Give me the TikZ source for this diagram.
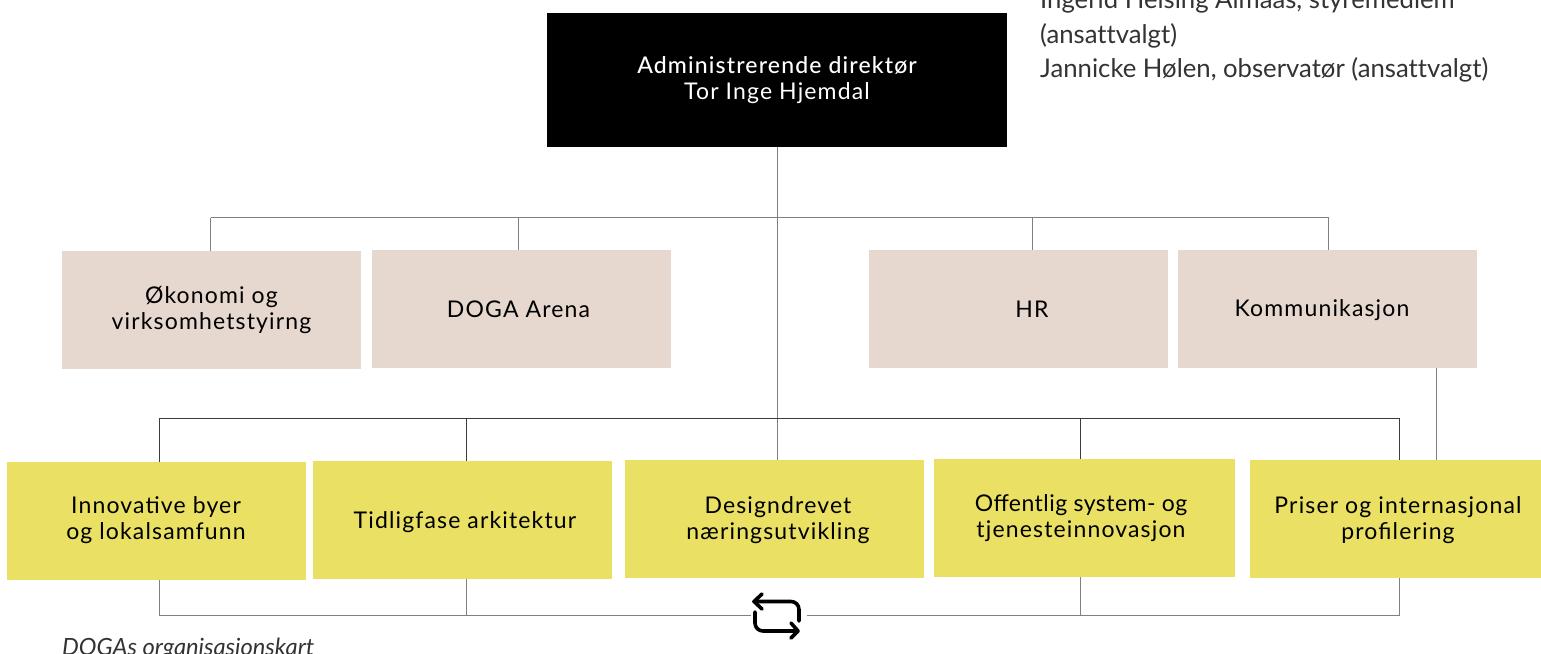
\documentclass[tikz,border=0pt]{standalone}
\usepackage{fontspec}
\setmainfont[Ligatures=NoCommon]{Lato}
\newfontfamily\boxfont[LetterSpace=5]{Lato}
\newfontfamily\boxmedium[LetterSpace=5]{Lato Medium}
\newfontfamily\boxtight[LetterSpace=2]{Lato}
\usetikzlibrary{positioning}
\definecolor{beige}{HTML}{E6D8CF}
\definecolor{lemon}{HTML}{E9E064}
\definecolor{linegrey}{HTML}{808080}
\definecolor{linedark}{HTML}{3C3C3C}
\definecolor{bodytext}{HTML}{333333}
\tikzset{
  beigebox/.style={fill=beige,minimum width=299pt,minimum height=118pt,inner sep=0pt},
  lemonbox/.style={fill=lemon,minimum width=299pt,minimum height=118pt,inner sep=0pt},
  boxtext/.style={font=\boxfont\fontsize{23}{26}\selectfont,align=center,text=black,inner sep=0pt},
  bodynote/.style={font=\fontsize{25.7}{34}\selectfont,text=bodytext,anchor=base west,inner sep=0pt},
  greyline/.style={draw=linegrey,line width=0.9pt},
  darkline/.style={draw=linedark,line width=0.9pt},
  iconline/.style={draw=black,line width=3.6pt,line cap=round,line join=round,rounded corners=8pt}
}
\begin{document}
\begin{tikzpicture}[x=1pt, y=-1pt]
\useasboundingbox (0,0) rectangle (1541,653);
\clip (0,0) rectangle (1541,653);

% Director
\node[fill=black,minimum width=460pt,minimum height=134pt,inner sep=0pt] (director) at (777,80) {};
\node[boxtext,text=white] (directortext) at (777,80) {{\boxmedium Administrerende direktør}\\Tor Inge Hjemdal};

% Staff boxes
\node[beigebox] (okonomi) at (211.5,310) {};
\node[beigebox] (arena) at (521.5,309) {};
\node[beigebox] (hr) at (1018.5,309) {};
\node[beigebox] (komm) at (1327.5,309) {};
\node[boxtext] (okonomitext) at (211.5,310) {Økonomi og\\virksomhetstyirng};
\node[boxtext] (arenatext) at (518.5,309) {DOGA Arena};
\node[boxtext] (hrtext) at (1032,309) {HR};
\node[boxtext] (kommtext) at (1322,310) {Kommunikasjon};

% Department boxes
\node[lemonbox] (byer) at (156.5,521) {};
\node[lemonbox] (tidlig) at (462,520) {};
\node[lemonbox] (design) at (774.5,519) {};
\node[lemonbox,minimum width=301pt] (offentlig) at (1084.5,518) {};
\node[lemonbox,minimum width=291pt] (priser) at (1395.5,519) {};
\node[boxtext] (byertext) at (156,520) {Innovative byer\\og lokalsamfunn};
\node[boxtext] (tidligtext) at (465,522) {Tidligfase arkitektur};
\node[boxtext] (designtext) at (778,520) {Designdrevet\\næringsutvikling};
\node[boxtext] (offentligtext) at (1081,518) {\boxtight Offentlig system- og\\tjenesteinnovasjon};
\node[boxtext] (prisertext) at (1398,520) {Priser og internasjonal\\profilering};

% Upper bus
\coordinate (upleft) at (210.5,217.5);
\coordinate (upmid) at (518.5,217.5);
\coordinate (upcen) at (777.5,217.5);
\coordinate (uphr) at (1032.5,217.5);
\coordinate (upright) at (1328.5,217.5);
\draw[greyline] (upleft) -- (upright);
\draw[greyline] (upleft) -- (upleft |- okonomi.north);
\draw[greyline] (upmid) -- (upmid |- arena.north);
\draw[greyline] (uphr) -- (uphr |- hr.north);
\draw[greyline] (upright) -- (upright |- komm.north);
\draw[greyline] (director.south -| upcen) -- (upcen |- design.north);

% Lower bus
\coordinate (lowleft) at (159.5,418.5);
\coordinate (lowmid) at (466.5,418.5);
\coordinate (lowcen) at (777.5,418.5);
\coordinate (lowoff) at (1080.5,418.5);
\coordinate (lowright) at (1399.5,418.5);
\coordinate (sidelink) at (1436.5,400);
\draw[darkline] (lowleft |- byer.north) -- (lowleft) -- (lowright) -- (lowright |- priser.north);
\draw[darkline] (lowmid) -- (lowmid |- tidlig.north);
\draw[darkline] (lowoff) -- (lowoff |- offentlig.north);
\draw[greyline] (sidelink |- komm.south) -- (sidelink |- priser.north);

% Return loop
\node[minimum width=56pt,minimum height=50pt,inner sep=0pt] (loop) at (779,615.5) {};
\draw[greyline] (lowleft |- byer.south) -- (lowleft |- loop.west) -- (loop.west);
\draw[greyline] (loop.east) -- (lowright |- loop.east) -- (lowright |- priser.south);
\draw[greyline] (lowmid |- tidlig.south) -- (lowmid |- loop.west);
\draw[greyline] (lowoff |- offentlig.south) -- (lowoff |- loop.east);

% Icon
\draw[iconline] (799,621) -- (799,601.5) -- (754,601.5);
\draw[iconline,rounded corners=0pt] (762,594) -- (754,601.5) -- (762,609);
\draw[iconline] (755,612) -- (755,631) -- (798,631);
\draw[iconline,rounded corners=0pt] (791,623) -- (798,631) -- (791,638);

% Notes
\node[bodynote] (boardone) at (1040,9) {Ingerid Helsing Almaas, styremedlem};
\node[bodynote] (boardtwo) at (1040,43) {(ansattvalgt)};
\node[bodynote] (boardthree) at (1040,77) {Jannicke Hølen, observatør (ansattvalgt)};
\node[font=\itshape\fontsize{23.7}{26}\selectfont,text=bodytext,anchor=base west,inner sep=0pt] (caption) at (62,655) {DOGAs organisasjonskart};
\end{tikzpicture}
\end{document}
